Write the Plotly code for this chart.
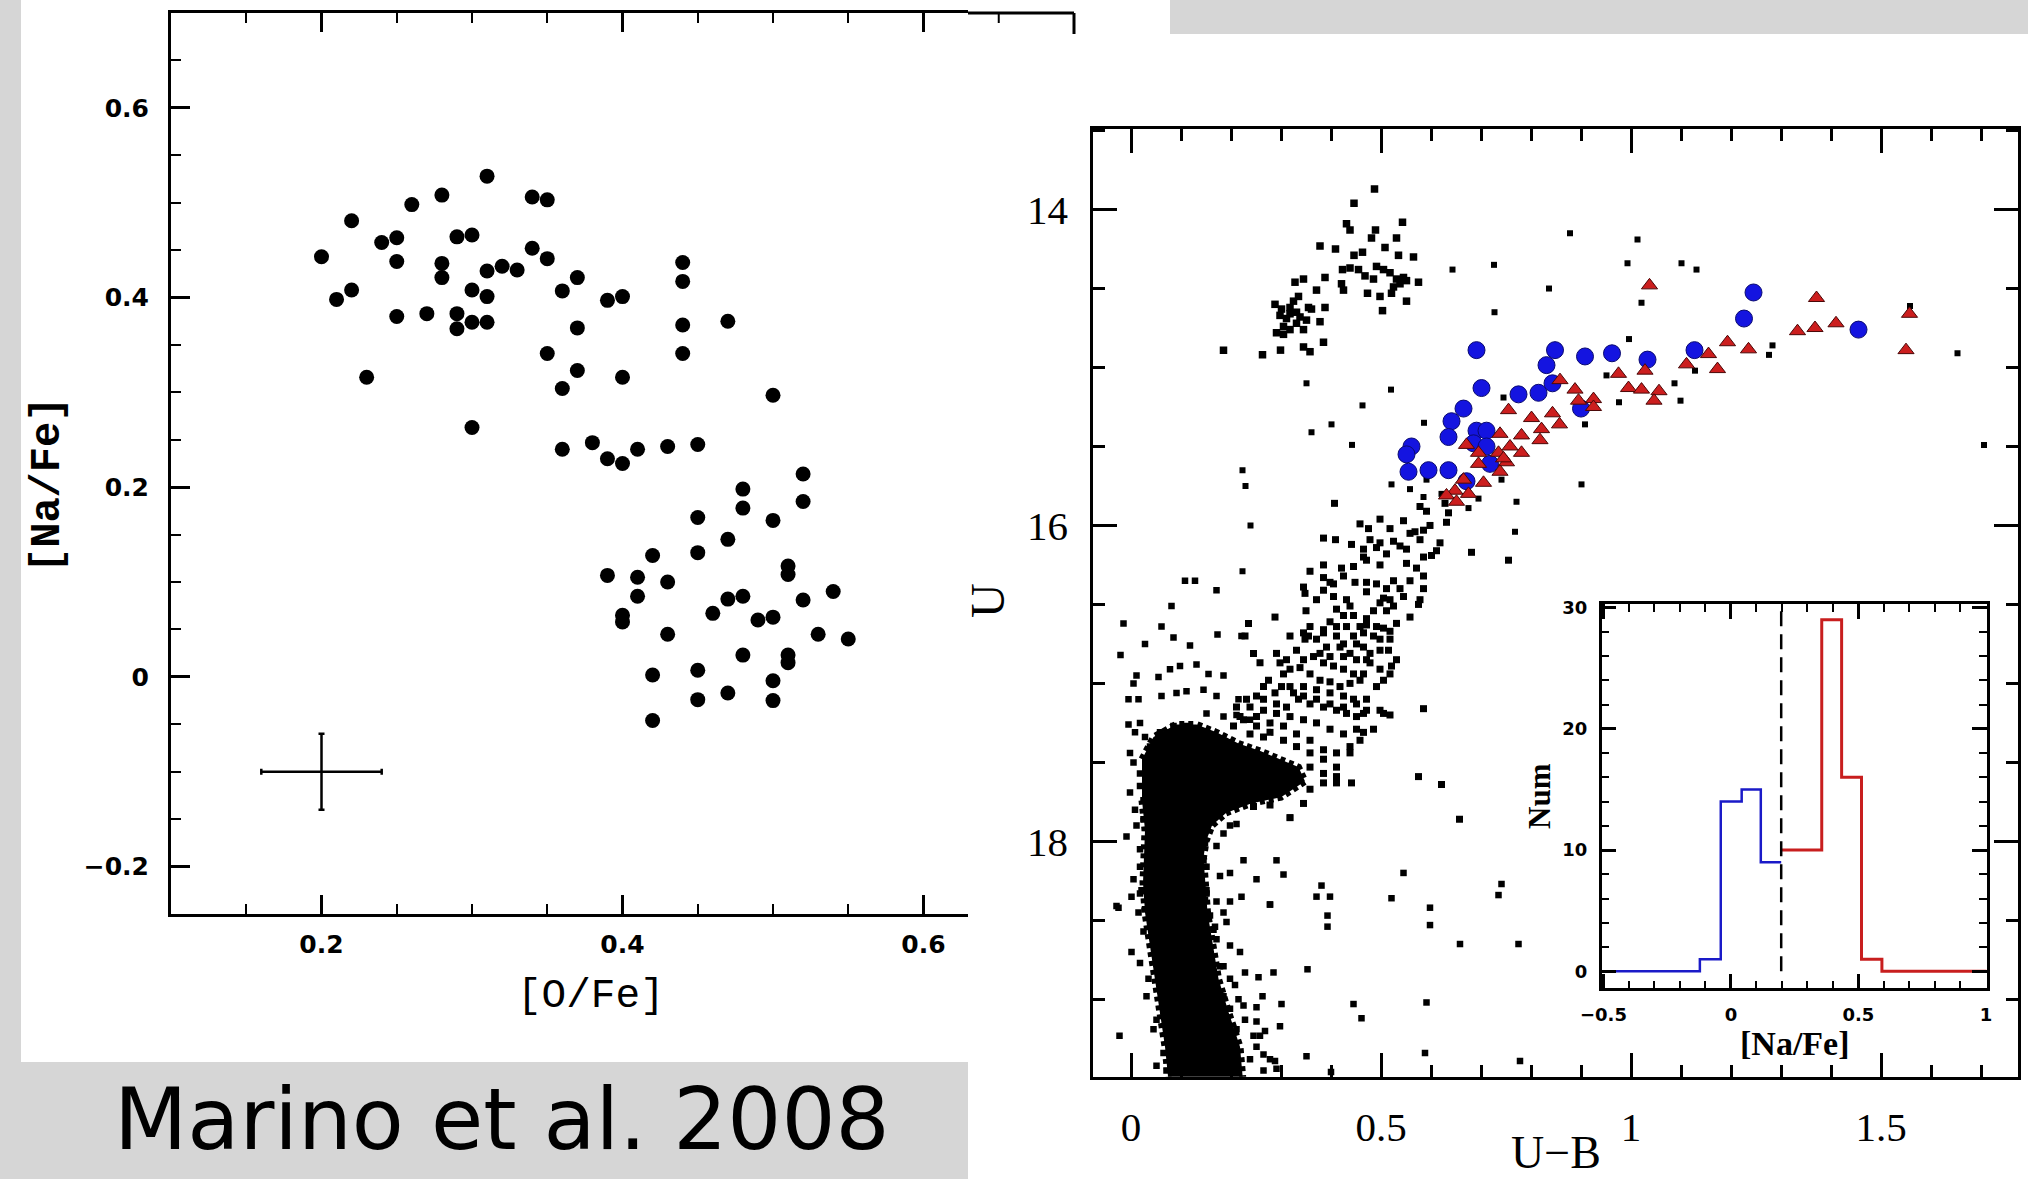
import plotly.graph_objects as go

W, H = 2028, 1179

# ---------------- Left panel: [Na/Fe] vs [O/Fe] ----------------
o_fe = [0.31, 0.28, 0.26, 0.34, 0.35, 0.22, 0.24, 0.25, 0.29, 0.30,
        0.20, 0.25, 0.28, 0.28, 0.34, 0.35, 0.31, 0.32, 0.33, 0.44,
        0.44, 0.22, 0.21, 0.30, 0.31, 0.36, 0.37, 0.39, 0.40, 0.25,
        0.27, 0.29, 0.29, 0.30, 0.31, 0.37, 0.44, 0.47, 0.35, 0.44,
        0.23, 0.37, 0.40, 0.36, 0.50, 0.30, 0.36, 0.38, 0.39, 0.40,
        0.41, 0.43, 0.45, 0.48, 0.48, 0.45, 0.47, 0.45, 0.42, 0.50,
        0.39, 0.41, 0.43, 0.41, 0.40, 0.40, 0.43, 0.46, 0.47, 0.48,
        0.49, 0.50, 0.48, 0.45, 0.42, 0.45, 0.47, 0.50, 0.50, 0.42,
        0.52, 0.52, 0.51, 0.51, 0.52, 0.54, 0.53, 0.55, 0.51, 0.51]
na_fe = [0.528, 0.508, 0.498, 0.506, 0.503, 0.481, 0.458, 0.463, 0.464, 0.466,
         0.443, 0.438, 0.436, 0.421, 0.452, 0.441, 0.428, 0.433, 0.429, 0.437,
         0.417, 0.408, 0.398, 0.408, 0.401, 0.407, 0.421, 0.397, 0.401, 0.380,
         0.383, 0.383, 0.367, 0.374, 0.374, 0.368, 0.371, 0.375, 0.341, 0.341,
         0.316, 0.323, 0.316, 0.304, 0.297, 0.263, 0.240, 0.247, 0.230, 0.225,
         0.240, 0.243, 0.245, 0.198, 0.178, 0.168, 0.145, 0.131, 0.128, 0.165,
         0.107, 0.105, 0.100, 0.085, 0.065, 0.058, 0.045, 0.067, 0.082, 0.085,
         0.060, 0.063, 0.023, 0.007, 0.002, -0.024, -0.017, -0.004, -0.025, -0.046,
         0.214, 0.185, 0.117, 0.108, 0.081, 0.090, 0.045, 0.040, 0.023, 0.015]
err_x, err_y = [0.2], [-0.1]
err_dx, err_dy = 0.04, 0.04

# ---------------- Right panel: U vs U-B CMD ----------------
# dense main-sequence / sub-giant region (outline)
ms_ub = [0.022, 0.045, 0.090, 0.131, 0.171, 0.215, 0.260, 0.300, 0.335, 0.348,
         0.300, 0.240, 0.190, 0.162, 0.150, 0.145, 0.147, 0.153, 0.164,
         0.175, 0.195, 0.218, 0.225, 0.076, 0.068, 0.058, 0.046, 0.038, 0.028,
         0.024, 0.026, 0.028, 0.022]
ms_u = [17.48, 17.34, 17.26, 17.26, 17.31, 17.38, 17.43, 17.48, 17.53, 17.62,
        17.72, 17.76, 17.82, 17.90, 18.00, 18.10, 18.25, 18.45, 18.66,
        18.87, 19.08, 19.30, 19.55, 19.55, 19.30, 19.08, 18.87, 18.66, 18.45,
        18.26, 18.05, 17.93, 17.74]

hb_ub = [0.487, 0.446, 0.431, 0.438, 0.543, 0.489, 0.481, 0.531, 0.378, 0.409,
         0.508, 0.446, 0.463, 0.535, 0.565, 0.423, 0.438, 0.455, 0.468, 0.485,
         0.491, 0.505, 0.518, 0.531, 0.545, 0.525, 0.538, 0.521, 0.551, 0.575,
         0.421, 0.425, 0.473, 0.498, 0.551, 0.503,
         0.345, 0.328, 0.388, 0.371, 0.388, 0.361, 0.288, 0.301, 0.318, 0.311,
         0.331, 0.305, 0.291, 0.318, 0.338, 0.351, 0.378, 0.345, 0.305, 0.325,
         0.335, 0.318, 0.331, 0.298, 0.355, 0.185, 0.263, 0.299, 0.345, 0.358, 0.385]
hb_u = [13.87, 13.96, 14.09, 14.13, 14.08, 14.13, 14.18, 14.18, 14.23, 14.25,
        14.24, 14.29, 14.27, 14.29, 14.30, 14.38, 14.37, 14.38, 14.42, 14.44,
        14.36, 14.38, 14.40, 14.44, 14.43, 14.49, 14.47, 14.53, 14.45, 14.46,
        14.47, 14.51, 14.53, 14.55, 14.58, 14.64,
        14.44, 14.46, 14.43, 14.51, 14.62, 14.63, 14.60, 14.63, 14.66, 14.69,
        14.72, 14.74, 14.78, 14.76, 14.68, 14.70, 14.71, 14.76, 14.79, 14.58,
        14.55, 14.62, 14.65, 14.67, 14.62, 14.89, 14.92, 14.89, 14.87, 14.90, 14.84]

field_ub = [0.643, 0.726, 0.836, 0.727, 0.878, 0.351, 0.520, 0.463, 0.401, 0.361,
            0.442, 0.223, 0.229, 0.239, 0.223, 0.521, 0.558, 0.591, 0.585, 0.621,
            0.695, 0.675, 0.745, 0.586, 0.741, 0.771, 0.768, 0.901, 0.908, 0.951,
            1.013, 0.993, 1.101, 1.131, 1.021, 0.996, 1.283, 1.276, 0.976, 1.087,
            1.099, 1.128, 1.558, 1.653, 1.706]
field_u = [14.38, 14.35, 14.50, 14.65, 14.15, 15.10, 15.14, 15.24, 15.36, 15.41,
           15.49, 15.65, 15.75, 16.00, 16.29, 15.74, 15.77, 15.71, 15.82, 15.80,
           15.83, 15.89, 15.19, 15.35, 15.71, 15.85, 16.04, 15.74, 15.36, 15.05,
           14.19, 14.34, 14.34, 14.38, 14.59, 14.82, 14.86, 14.92, 15.22, 15.10,
           15.21, 15.02, 14.61, 14.91, 15.49]

rgb_ub = [0.407, 0.385, 0.409, 0.458, 0.475, 0.498, 0.518, 0.441, 0.465, 0.491,
          0.525, 0.551, 0.568, 0.585, 0.598, 0.618, 0.631, 0.635, 0.591, 0.578,
          0.681, 0.755, 0.601, 0.385, 0.421, 0.358, 0.471, 0.498, 0.551, 0.571,
          0.578, 0.628,
          0.585, 0.585, 0.578, 0.558, 0.575, 0.471, 0.491, 0.511, 0.525, 0.538,
          0.345, 0.348, 0.385, 0.398, 0.448, 0.471, 0.505, 0.525, 0.531, 0.511,
          0.485, 0.471, 0.405, 0.431, 0.411, 0.438, 0.425, 0.445, 0.458, 0.431,
          0.411, 0.398, 0.385, 0.471, 0.491, 0.505, 0.518, 0.350, 0.288, 0.235,
          0.228, 0.355, 0.371, 0.391, 0.418, 0.438, 0.451, 0.465, 0.478, 0.498,
          0.515, 0.521, 0.318, 0.331, 0.348, 0.291, 0.311, 0.345, 0.365, 0.385,
          0.405, 0.425, 0.445, 0.465, 0.471, 0.458, 0.438, 0.418, 0.398, 0.378,
          0.358, 0.338, 0.318, 0.298, 0.305, 0.245, 0.258, 0.275, 0.288, 0.265,
          0.251, 0.231, 0.211, 0.301, 0.325, 0.345, 0.371, 0.398, 0.425, 0.445,
          0.465, 0.451, 0.431, 0.411, 0.385, 0.358, 0.335, 0.311, 0.265, 0.291,
          0.318, 0.345, 0.371, 0.398, 0.425, 0.451, 0.458, 0.438, 0.411, 0.385,
          0.358, 0.331, 0.305, 0.278, 0.251, 0.225, 0.205, 0.238, 0.265, 0.385,
          0.411, 0.358, 0.331, 0.358, 0.385, 0.411, 0.441, 0.345, 0.318, 0.278,
          0.245, 0.471, 0.498, 0.518, 0.585, 0.575, 0.621, 0.657]
rgb_u = [15.86, 16.08, 16.09, 15.99, 16.02, 15.96, 16.02, 16.12, 16.15, 16.14,
         16.10, 16.15, 16.04, 16.03, 16.00, 16.11, 15.98, 15.92, 15.91, 15.88,
         16.17, 16.22, 16.19, 16.25, 16.27, 16.29, 16.22, 16.25, 16.24, 16.27,
         16.09, 15.86,
         16.32, 16.40, 16.47, 16.58, 16.50, 16.36, 16.37, 16.40, 16.35, 16.40,
         16.39, 16.43, 16.33, 16.36, 16.36, 16.42, 16.46, 16.51, 16.62, 16.54,
         16.54, 16.59, 16.45, 16.47, 16.53, 16.51, 16.57, 16.57, 16.64, 16.64,
         16.64, 16.61, 16.66, 16.63, 16.64, 16.65, 16.67, 16.54, 16.58, 16.62,
         16.70, 16.70, 16.72, 16.77, 16.77, 16.81, 16.75, 16.77, 16.81, 16.79,
         16.79, 16.89, 16.70, 16.79, 16.72, 16.81, 16.85, 16.85, 16.83, 16.87,
         16.89, 16.91, 16.94, 16.94, 16.85, 16.98, 17.00, 17.02, 16.99, 16.98,
         16.94, 16.90, 16.91, 16.87, 16.94, 16.81, 16.87, 16.98, 17.06, 17.02,
         17.08, 17.10, 17.15, 17.02, 17.06, 17.02, 17.04, 17.06, 17.08, 17.10,
         17.19, 17.21, 17.19, 17.17, 17.15, 17.13, 17.10, 17.15, 17.17, 17.19,
         17.21, 17.23, 17.25, 17.29, 17.32, 17.29, 17.36, 17.40, 17.44, 17.42,
         17.36, 17.32, 17.27, 17.25, 17.21, 17.23, 17.27, 17.32, 17.34, 17.48,
         17.53, 17.53, 17.61, 17.67, 17.63, 17.63, 17.63, 17.76, 17.85, 17.77,
         17.78, 17.17, 17.17, 17.20, 17.16, 17.59, 17.64, 17.86]

rgb_extra_ub = [0.345, 0.358, 0.385, 0.411, 0.425, 0.445, 0.465, 0.485, 0.498, 0.518,
                0.378, 0.398, 0.425, 0.451, 0.478, 0.498, 0.318, 0.345, 0.371, 0.398,
                0.425, 0.451, 0.291, 0.265, 0.238, 0.218, 0.251, 0.278, 0.305, 0.331,
                0.358, 0.385, 0.411, 0.438, 0.465, 0.485, 0.505, 0.471, 0.491, 0.505,
                0.518, 0.531,
                0.545, 0.558, 0.538, 0.511, 0.498, 0.478, 0.465, 0.445, 0.425, 0.405,
                0.385, 0.371, 0.558, 0.545, 0.518, 0.498, 0.585, 0.611]
rgb_extra_u = [16.68, 16.64, 16.68, 16.70, 16.75, 16.70, 16.68, 16.70, 16.72, 16.72,
               16.81, 16.83, 16.83, 16.85, 16.87, 16.91, 17.02, 17.08, 17.10, 17.13,
               17.15, 17.13, 17.13, 17.10, 17.15, 17.21, 17.27, 17.31, 17.36, 17.40,
               17.44, 17.57, 17.59, 17.44, 17.31, 17.29, 17.19, 17.10, 17.02, 16.98,
               16.94, 16.85,
               15.97, 16.05, 16.13, 16.18, 16.11, 16.09, 16.20, 16.26, 16.32, 16.37,
               16.41, 16.47, 16.35, 16.45, 16.47, 16.49, 16.20, 16.16]

blue_edge_ub = [-0.015, -0.021, 0.028, 0.061, 0.081, 0.108, 0.128, 0.171, 0.173, 0.221,
                0.118, 0.085, 0.011, 0.005, 0.055, 0.078, 0.098, 0.131, 0.155, 0.185,
                -0.005, 0.015, 0.061, 0.091, 0.111, 0.145, 0.171, 0.215, -0.005, 0.018,
                0.008, 0.028, 0.058, 0.085, 0.151, 0.185, 0.211, 0.238, 0.005, -0.002,
                0.008, 0.025, -0.009, 0.005, -0.029, 0.001, 0.018, 0.025, 0.018, 0.028,
                0.145, 0.148, 0.151]
blue_edge_u = [16.62, 16.82, 16.75, 16.64, 16.51, 16.35, 16.35, 16.41, 16.69, 16.70,
               16.76, 16.71, 16.95, 17.00, 16.96, 16.91, 16.89, 16.88, 16.94, 16.95,
               17.10, 17.10, 17.08, 17.06, 17.05, 17.04, 17.08, 17.10, 17.26, 17.25,
               17.31, 17.34, 17.31, 17.27, 17.19, 17.21, 17.20, 17.23, 17.50, 17.69,
               17.80, 17.74, 17.97, 18.24, 18.41, 18.35, 17.57, 17.86, 18.05, 18.43,
               17.84, 18.01, 18.31]

ms_side_ub = [0.158, 0.171, 0.185, 0.198, 0.211, 0.225, 0.198, 0.178, 0.151, 0.251,
              0.278, 0.305, 0.291, 0.318, 0.371, 0.381, 0.398, 0.521, 0.545, 0.598,
              0.735, 0.741,
              -0.025, 0.001, -0.023, 0.025, 0.171, 0.198, 0.221, 0.191, 0.218, 0.228,
              0.255, 0.285, 0.208, 0.185, 0.171, 0.168, 0.148, 0.278, 0.353, 0.301,
              0.263, 0.251, 0.298, 0.268, 0.251, 0.215, 0.198, 0.228, 0.245, 0.251,
              0.265, 0.288, 0.291, 0.351, 0.393, 0.393, 0.400, 0.598, 0.658, 0.775,
              0.445, 0.461, 0.591, 0.588, 0.778,
              0.018, 0.035, 0.051, 0.065, 0.071, 0.151, 0.165, 0.178, 0.185, 0.211,
              0.238, 0.265,
              0.018, 0.011, 0.018, 0.015, 0.021, 0.145, 0.148, 0.158, -0.002, 0.038,
              0.071, 0.111, 0.118, 0.018, 0.031, 0.045, 0.051, 0.198, 0.225, 0.258,
              0.278, 0.198, 0.185]
ms_side_u = [17.88, 18.03, 17.95, 17.90, 17.89, 18.12, 18.20, 18.22, 18.16, 18.24,
             18.40, 18.21, 18.12, 17.85, 18.35, 18.28, 18.35, 18.36, 18.20, 18.42,
             18.34, 18.27,
             18.42, 18.70, 19.23, 18.57, 18.38, 18.38, 18.35, 18.51, 18.70, 18.83,
             18.86, 18.83, 18.91, 18.79, 18.62, 18.54, 18.50, 18.40, 18.81, 19.03,
             18.98, 19.05, 19.17, 19.20, 19.14, 19.00, 19.06, 19.13, 19.23, 19.30,
             19.35, 19.39, 19.44, 19.36, 18.47, 18.54, 19.46, 18.53, 18.65, 18.65,
             19.03, 19.12, 19.02, 19.34, 19.39,
             18.33, 18.87, 19.13, 19.34, 19.45, 18.33, 18.56, 18.79, 18.98, 19.19,
             19.38, 19.45,
             17.65, 17.90, 18.16, 18.45, 18.31, 18.12, 18.37, 18.47, 17.44, 17.40,
             17.31, 17.27, 17.36, 18.77, 18.98, 19.19, 19.42, 18.87, 19.04, 19.23,
             19.38, 18.66, 18.45]

pop_na_poor_ub = [0.691, 0.848, 0.831, 0.908, 0.962, 0.701, 0.775, 0.815, 0.843, 0.665,
                  0.641, 0.635, 0.691, 0.711, 0.685, 0.711, 0.561, 0.551, 0.555, 0.595,
                  0.635, 0.718, 0.671, 0.900, 1.245, 1.226, 1.455, 1.127, 1.033]
pop_na_poor_u = [14.89, 14.89, 14.985, 14.93, 14.91, 15.13, 15.17, 15.16, 15.10, 15.26,
                 15.34, 15.44, 15.40, 15.40, 15.48, 15.50, 15.50, 15.55, 15.66, 15.65,
                 15.65, 15.61, 15.72, 15.26, 14.525, 14.69, 14.76, 14.89, 14.95]

pop_na_rich_ub = [0.858, 0.888, 0.925, 0.755, 0.801, 0.843, 0.857, 0.821, 0.781, 0.818,
                  0.738, 0.758, 0.781, 0.735, 0.695, 0.671, 0.751, 0.695, 0.738, 0.705,
                  0.665, 0.648, 0.675, 0.631, 0.651, 0.925, 0.895, 0.745,
                  1.037, 1.371, 1.557, 1.550, 1.410, 1.368, 1.333, 1.193, 1.235, 1.155,
                  1.173, 1.111, 1.028, 0.975, 0.995, 1.021, 1.056, 1.046]
pop_na_rich_u = [15.08, 15.14, 15.20, 15.27, 15.32, 15.29, 15.36, 15.39, 15.43, 15.46,
                 15.42, 15.50, 15.54, 15.54, 15.54, 15.49, 15.60, 15.61, 15.66, 15.73,
                 15.71, 15.78, 15.80, 15.81, 15.85, 15.25, 15.21, 15.575,
                 14.48, 14.56, 14.66, 14.89, 14.72, 14.75, 14.77, 14.84, 14.885, 14.915,
                 15.01, 14.98, 15.02, 15.04, 15.13, 15.14, 15.15, 15.21]

# ---------------- Inset: [Na/Fe] histogram ----------------
na_cut = 0.197
poor_edges = [-0.507, -0.122, -0.040, 0.042, 0.117, 0.197]
poor_counts = [0, 1, 14, 15, 9]
rich_edges = [0.197, 0.275, 0.356, 0.434, 0.512, 0.592, 1.003]
rich_counts = [10, 10, 29, 16, 1, 0]

# ---------------- geometry (pixels) ----------------
L_X0, L_X1, L_Y0, L_Y1 = 171, 968, 13, 914          # left axes (visible part)
L_FRAME_R, L_FRAME_STOP = 1074, 34
C_X0, C_X1, C_Y0, C_Y1 = 1093.3, 2018.3, 129, 1076.7  # CMD axes
I_X0, I_X1, I_Y0, I_Y1 = 1601.7, 1986.7, 604, 988.3  # inset axes


def px(x):
    return x / W


def py(y):
    return 1 - y / H


fig = go.Figure()

# left panel
fig.add_trace(go.Scatter(x=o_fe, y=na_fe, mode="markers", xaxis="x", yaxis="y",
                         marker=dict(size=15, color="black", symbol="circle"),
                         showlegend=False, hoverinfo="skip"))
fig.add_trace(go.Scatter(x=err_x, y=err_y, mode="markers", xaxis="x", yaxis="y",
                         marker=dict(size=1, color="rgba(0,0,0,0)"),
                         error_x=dict(type="constant", value=err_dx, thickness=2.5, width=3, color="black"),
                         error_y=dict(type="constant", value=err_dy, thickness=2.5, width=3, color="black"),
                         showlegend=False, hoverinfo="skip"))

# CMD: dense region, with a stippled border standing in for the crowded edge stars
fig.add_trace(go.Scatter(x=ms_ub, y=ms_u, mode="lines", fill="toself", fillcolor="black",
                         line=dict(color="black", width=7, dash="5px,4px"),
                         xaxis="x2", yaxis="y2", showlegend=False, hoverinfo="skip"))
for xs, ys, sz in [(hb_ub, hb_u, 7.5), (field_ub, field_u, 6), (rgb_ub, rgb_u, 7),
                   (rgb_extra_ub, rgb_extra_u, 7), (blue_edge_ub, blue_edge_u, 6.5),
                   (ms_side_ub, ms_side_u, 6.5)]:
    fig.add_trace(go.Scatter(x=xs, y=ys, mode="markers", xaxis="x2", yaxis="y2",
                             marker=dict(symbol="square", size=sz, color="black", line=dict(width=0)),
                             showlegend=False, hoverinfo="skip"))
fig.add_trace(go.Scatter(x=pop_na_poor_ub, y=pop_na_poor_u, mode="markers", xaxis="x2", yaxis="y2",
                         marker=dict(symbol="circle", size=17, color="#1414e0",
                                     line=dict(color="#0a0a70", width=1)),
                         showlegend=False, hoverinfo="skip"))
fig.add_trace(go.Scatter(x=pop_na_rich_ub, y=pop_na_rich_u, mode="markers", xaxis="x2", yaxis="y2",
                         marker=dict(symbol="triangle-up", size=14, color="#cc1e1e",
                                     line=dict(color="#4a0808", width=1)),
                         showlegend=False, hoverinfo="skip"))

# inset histogram
fig.add_trace(go.Scatter(x=poor_edges, y=poor_counts + poor_counts[-1:], mode="lines",
                         line=dict(shape="hv", color="#1a1ac8", width=2.5), xaxis="x3", yaxis="y3",
                         showlegend=False, hoverinfo="skip"))
fig.add_trace(go.Scatter(x=rich_edges, y=rich_counts + rich_counts[-1:], mode="lines",
                         line=dict(shape="hv", color="#c81e1e", width=3), xaxis="x3", yaxis="y3",
                         showlegend=False, hoverinfo="skip"))
fig.add_trace(go.Scatter(x=[na_cut, na_cut], y=[0, 30.3], mode="lines",
                         line=dict(color="black", width=2.5, dash="15px,8px"), xaxis="x3", yaxis="y3",
                         showlegend=False, hoverinfo="skip"))

mono = "Liberation Mono, Courier New, monospace"
serif = "Liberation Serif, Times New Roman, serif"
sansb = "DejaVu Sans, Liberation Sans, sans-serif"


def axis_common(ticklen, lw):
    return dict(showgrid=False, zeroline=False, showline=True, linecolor="black", linewidth=lw,
                ticks="inside", tickcolor="black", tickwidth=2.5, ticklen=ticklen, mirror="ticks",
                automargin=False)


def minor(dt, ln, w):
    return dict(dtick=dt, tick0=0, ticks="inside", ticklen=ln, tickwidth=w, tickcolor="black", showgrid=False)


fig.update_layout(
    width=W, height=H, autosize=False,
    margin=dict(l=0, r=0, t=0, b=0, pad=0, autoexpand=False),
    paper_bgcolor="#d6d6d6", plot_bgcolor="white",
    showlegend=False,
    xaxis=dict(domain=[px(L_X0), px(L_X1)], range=[0.1, 0.1 + (L_X1 - L_X0) / 1505.0], anchor="y",
               dtick=0.2, tick0=0, ticklabelstandoff=6,
               tickfont=dict(family=sansb, size=25, color="black", weight="bold"),
               minor=minor(0.05, 10, 2), **axis_common(19, 3)),
    yaxis=dict(domain=[py(L_Y1), py(L_Y0)], range=[-0.25, 0.7], anchor="x",
               dtick=0.2, tick0=0, ticklabelstandoff=14,
               tickfont=dict(family=sansb, size=25, color="black", weight="bold"),
               minor=minor(0.05, 10, 2), **{**axis_common(19, 3), "mirror": False}),
    xaxis2=dict(domain=[px(C_X0), px(C_X1)], range=[-0.0754, 1.7746], anchor="y2",
                dtick=0.5, tick0=0, ticklabelstandoff=12,
                tickfont=dict(family=serif, size=41, color="black"),
                minor=minor(0.1, 12, 2.5), **axis_common(24, 3)),
    yaxis2=dict(domain=[py(C_Y1), py(C_Y0)], range=[19.49, 13.49], anchor="x2",
                dtick=2, tick0=0, ticklabelstandoff=14,
                tickfont=dict(family=serif, size=41, color="black"),
                minor=minor(0.5, 12, 2.5), **axis_common(24, 3)),
    xaxis3=dict(domain=[px(I_X0), px(I_X1)], range=[-0.507, 1.003], anchor="y3",
                dtick=0.5, tick0=0, ticklabelstandoff=8,
                tickfont=dict(family=sansb, size=18, color="black", weight="bold"),
                minor=minor(0.1, 8, 2), **axis_common(15, 2.5)),
    yaxis3=dict(domain=[py(I_Y1), py(I_Y0)], range=[-1.4, 30.3], anchor="x3",
                dtick=10, tick0=0, ticklabelstandoff=8,
                tickfont=dict(family=sansb, size=18, color="black", weight="bold"),
                minor=minor(2, 8, 2), **axis_common(15, 2.5)),
)

# white panels on the marble background + left frame continuation
shapes = [
    dict(type="rect", xref="paper", yref="paper", x0=px(21), x1=px(1170), y0=py(1062), y1=1,
         fillcolor="white", line=dict(width=0), layer="below"),
    dict(type="rect", xref="paper", yref="paper", x0=px(968), x1=1, y0=0, y1=py(34),
         fillcolor="white", line=dict(width=0), layer="below"),
    dict(type="line", xref="paper", yref="paper", x0=px(L_X1), x1=px(L_FRAME_R), y0=py(L_Y0), y1=py(L_Y0),
         line=dict(color="black", width=3)),
    dict(type="line", xref="paper", yref="paper", x0=px(L_FRAME_R), x1=px(L_FRAME_R), y0=py(L_Y0), y1=py(L_FRAME_STOP),
         line=dict(color="black", width=3)),
    dict(type="line", xref="paper", yref="paper", x0=px(L_X0 + (0.65 - 0.1) * 1505), x1=px(L_X0 + (0.65 - 0.1) * 1505),
         y0=py(L_Y0), y1=py(L_Y0 + 10), line=dict(color="black", width=2)),
]
fig.update_layout(shapes=shapes)

ann = [
    dict(text="[Na/Fe]", x=px(48), y=py(485), textangle=-90, font=dict(family=mono, size=42, color="black", weight="bold")),
    dict(text="[O/Fe]", x=px(591), y=py(996), font=dict(family=mono, size=41, color="black")),
    dict(text="U\u2212B", x=px(1556), y=py(1152), font=dict(family=serif, size=46, color="black")),
    dict(text="U", x=px(988), y=py(601), textangle=-90, font=dict(family=serif, size=48, color="black")),
    dict(text="Num", x=px(1539), y=py(796), textangle=-90, font=dict(family=serif, size=31, color="black", weight="bold")),
    dict(text="[Na/Fe]", x=px(1795), y=py(1043), font=dict(family=serif, size=34, color="black", weight="bold")),
    dict(text="Marino et al. 2008", x=px(112), y=py(1119), xanchor="left",
         font=dict(family="DejaVu Sans", size=85, color="black")),
]
for a in ann:
    a.setdefault("xanchor", "center")
    a.update(xref="paper", yref="paper", yanchor="middle", showarrow=False)
fig.update_layout(annotations=ann)

fig.write_html("out.html")
